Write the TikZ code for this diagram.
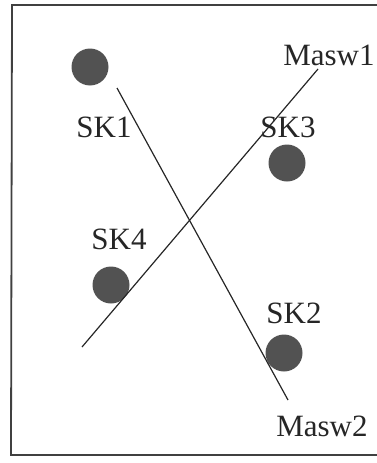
\documentclass[tikz,border=0pt]{standalone}
\usepackage{fontspec}
\setmainfont{Liberation Serif}
\usetikzlibrary{positioning}
\usetikzlibrary{calc}
\tikzset{
  well/.style={circle,fill=black!68,inner sep=0pt,minimum size=37pt},
  lbl/.style={font=\fontsize{31}{36}\selectfont,text=black!85,inner sep=0pt}
}
\begin{document}
\begin{tikzpicture}[x=1pt,y=-1pt,line width=1.2pt]
\useasboundingbox (0,0) rectangle (377,463);
\def\frametop{5}
\def\framebot{455}
% frame (open on the right)
\draw[black!75,line width=1.8pt] (377,\frametop) -- (12,\frametop) -- (11,\framebot) -- (377,\framebot);
% wells
\node[well] (sk1) at (90,67) {};
\node[well] (sk3) at (287,163) {};
\node[well] (sk4) at (111,285) {};
\node[well] (sk2) at (284,353) {};
\node[lbl] (sk1l) at (104,127) {SK1};
\node[lbl] (sk3l) at (288,127) {SK3};
\node[lbl] (sk4l) at (119,239) {SK4};
\node[lbl] (sk2l) at (294,313) {SK2};
% profiles
\coordinate (m1a) at (318,69);
\coordinate (m1b) at (82,347);
\coordinate (m2a) at (117,88);
\coordinate (m2b) at (288,400);
\draw[black!85] (m1a) -- (m1b);
\draw[black!85] (m2a) -- (m2b);
\node[lbl] (masw1) at (329,55) {Masw1};
\node[lbl] (masw2) at (322,426) {Masw2};
\end{tikzpicture}
\end{document}
